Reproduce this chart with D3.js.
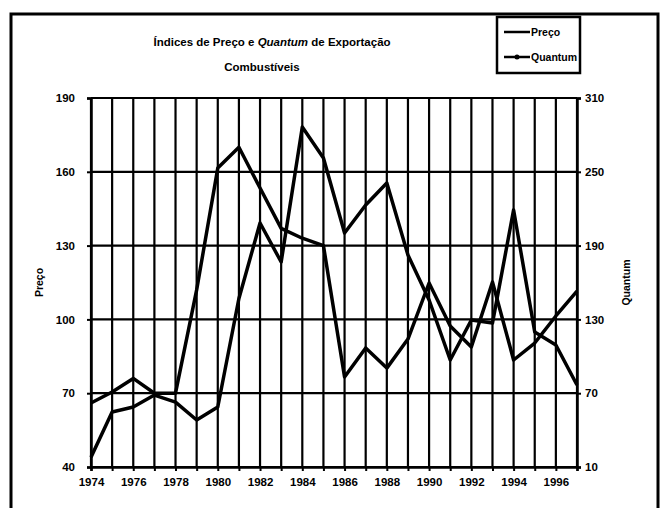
<!DOCTYPE html>
<html>
<head>
<meta charset="utf-8">
<script src="https://cdn.jsdelivr.net/npm/d3@7"></script>
<style>
  html, body { margin: 0; padding: 0; background: #fff; }
  svg { display: block; }
  text { font-family: "Liberation Sans", Arial, sans-serif; font-weight: bold; fill: #000; }
</style>
</head>
<body>
<script>
const years = ["1974","1975","1976","1977","1978","1979","1980","1981","1982","1983","1984","1985",
               "1986","1987","1988","1989","1990","1991","1992","1993","1994","1995","1996","1997"];
const xLabels = ["1974","1976","1978","1980","1982","1984","1986","1988","1990","1992","1994","1996"];
const preco = [66, 70.5, 76, 70, 70, 112, 161.5, 170, 153.4, 137, 133, 130,
               76.6, 88.4, 80.2, 92, 114.8, 97.3, 88.8, 115.2, 83.5, 90.4, 101.4, 111.5];
const quantum = [18, 54.7, 58.8, 68.5, 62.8, 48.2, 58.8, 147, 208.4, 176.7, 286.4, 261.2,
                 200.2, 223, 240.9, 182.4, 145.8, 97, 129.5, 127, 219, 119.8, 109.2, 76.7];
const leftTicks = [40, 70, 100, 130, 160, 190];
const rightTicks = [10, 70, 130, 190, 250, 310];
const titleLine1 = ["Índices de Preço e ", "Quantum", " de Exportação"];
const titleLine2 = "Combustíveis";
const seriesNames = ["Preço", "Quantum"];

const W = 663, H = 508;
const svg = d3.select("body").append("svg").attr("width", W).attr("height", H);

// outer frame
svg.append("rect").attr("x", 11).attr("y", 14).attr("width", 647).attr("height", 530)
  .attr("fill", "none").attr("stroke", "#000").attr("stroke-width", 3);

const L = 91, R = 577, T = 98, B = 467;
const x = d3.scalePoint().domain(years).range([L, R]);
const yL = d3.scaleLinear().domain([40, 190]).range([B, T]);
const yR = d3.scaleLinear().domain([10, 310]).range([B, T]);

// vertical gridlines
svg.append("g").selectAll("line").data(years).join("line")
  .attr("x1", d => x(d)).attr("x2", d => x(d)).attr("y1", T).attr("y2", B)
  .attr("stroke", "#000").attr("stroke-width", 2.2);
// horizontal gridlines
svg.append("g").selectAll("line").data(leftTicks).join("line")
  .attr("x1", L).attr("x2", R).attr("y1", d => yL(d)).attr("y2", d => yL(d))
  .attr("stroke", "#000").attr("stroke-width", 2.2);

// axes
const axL = d3.axisLeft(yL).tickValues(leftTicks).tickSize(4).tickPadding(12);
const axR = d3.axisRight(yR).tickValues(rightTicks).tickSize(4).tickPadding(4);
const axB = d3.axisBottom(x).tickValues(years).tickSize(4).tickPadding(7)
  .tickFormat(d => xLabels.includes(d) ? d : "");
const gL = svg.append("g").attr("transform", `translate(${L},0)`).call(axL);
const gR = svg.append("g").attr("transform", `translate(${R},0)`).call(axR);
const gB = svg.append("g").attr("transform", `translate(0,${B})`).call(axB);
[gL, gR, gB].forEach(g => {
  g.selectAll("path").attr("stroke", "#000").attr("stroke-width", 2.5);
  g.selectAll("line").attr("stroke", "#000").attr("stroke-width", 2);
  g.selectAll("text").attr("font-size", 11.5).style("font-weight", "bold").attr("fill", "#000");
});

// series lines
const lineP = d3.line().x((d, i) => x(years[i])).y(d => yL(d));
const lineQ = d3.line().x((d, i) => x(years[i])).y(d => yR(d));
svg.append("path").datum(quantum).attr("d", lineQ)
  .attr("fill", "none").attr("stroke", "#000").attr("stroke-width", 3.5).attr("stroke-linejoin", "round");
svg.append("path").datum(preco).attr("d", lineP)
  .attr("fill", "none").attr("stroke", "#000").attr("stroke-width", 3.5).attr("stroke-linejoin", "round");

// axis titles
svg.append("text").attr("transform", `translate(43,${(T + B) / 2}) rotate(-90)`)
  .attr("text-anchor", "middle").attr("font-size", 10.5).text("Preço");
svg.append("text").attr("transform", `translate(630,${(T + B) / 2}) rotate(-90)`)
  .attr("text-anchor", "middle").attr("font-size", 10.5).text("Quantum");

// title
const t1 = svg.append("text").attr("x", 272).attr("y", 46).attr("text-anchor", "middle").attr("font-size", 11.5);
titleLine1.forEach((s, i) => t1.append("tspan").attr("font-style", i === 1 ? "italic" : "normal").text(s));
svg.append("text").attr("x", 262).attr("y", 71).attr("text-anchor", "middle").attr("font-size", 11.5).text(titleLine2);

// legend
const lg = svg.append("g");
lg.append("rect").attr("x", 497).attr("y", 17).attr("width", 83).attr("height", 56)
  .attr("fill", "#fff").attr("stroke", "#000").attr("stroke-width", 2.5);
seriesNames.forEach((n, i) => {
  const yy = 32 + i * 25;
  lg.append("line").attr("x1", 504).attr("x2", 530).attr("y1", yy).attr("y2", yy)
    .attr("stroke", "#000").attr("stroke-width", 2.5);
  if (i === 1) lg.append("circle").attr("cx", 517).attr("cy", yy).attr("r", 2.5).attr("fill", "#000");
  lg.append("text").attr("x", 531).attr("y", yy + 4).attr("font-size", 10.5).text(n);
});
</script>
</body>
</html>
